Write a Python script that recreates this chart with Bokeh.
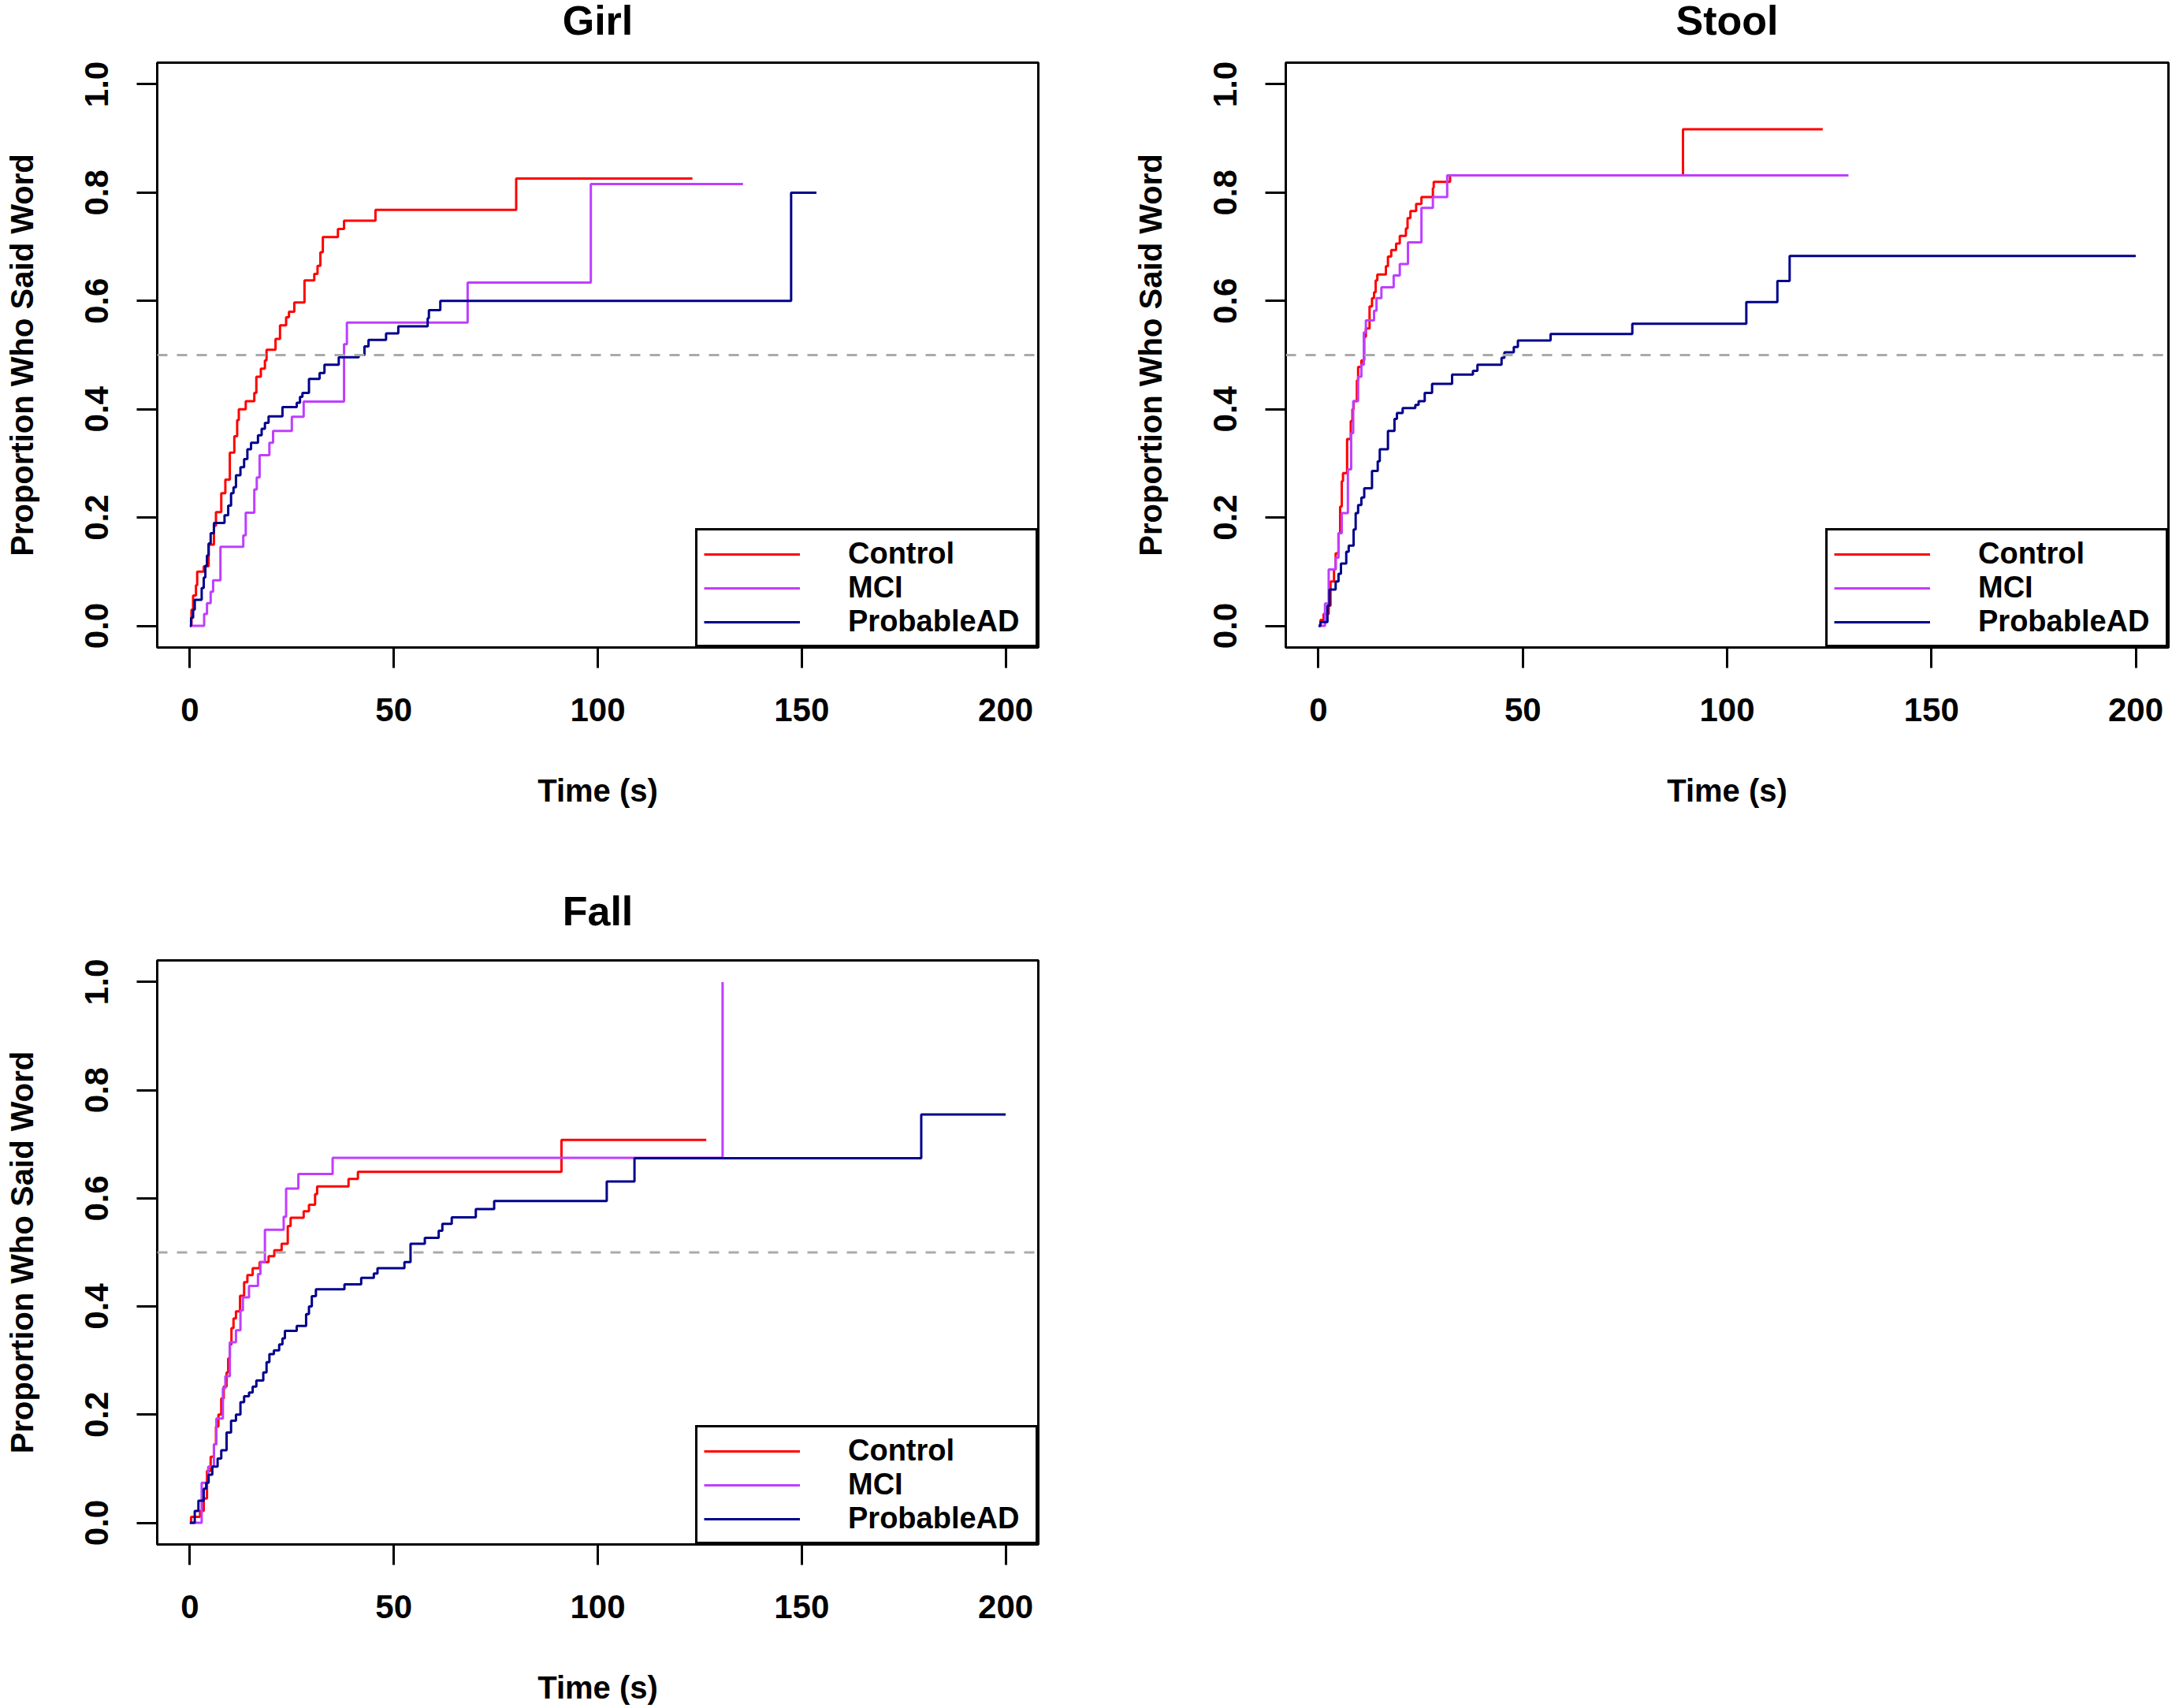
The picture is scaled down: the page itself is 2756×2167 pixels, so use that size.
from bokeh.plotting import figure
from bokeh.models import Range1d, FixedTicker, PrintfTickFormatter, Span, Legend, LegendItem
from bokeh.layouts import row, column
from bokeh.embed import file_html
from bokeh.resources import INLINE

# ---------------- data ----------------
groups = ["Control", "MCI", "ProbableAD"]
colors = ["#FF0000", "#BF3EFF", "#00008B"]
panel_titles = ["Girl", "Stool", "Fall"]
x_ticks = [0, 50, 100, 150, 200]
y_ticks = [0.0, 0.2, 0.4, 0.6, 0.8, 1.0]
x_label = "Time (s)"
y_label = "Proportion Who Said Word"

girl_control_t = [0, 0.4, 0.8, 1.5, 1.8, 3.4, 4.6, 5.9, 6.4, 7.7, 8.7, 9.8, 10.9, 11.6, 12.0, 13.7, 15.8, 16.3,
                  17.4, 18.4, 18.8, 21.0, 22.1, 23.6, 24.3, 25.6, 28.1, 30.5, 31.3, 32.0, 32.6, 36.3, 37.8, 45.5,
                  80.0, 123.2]
girl_control_p = [0, 0.03, 0.056, 0.075, 0.10, 0.11, 0.15, 0.185, 0.21, 0.245, 0.27, 0.32, 0.35, 0.38, 0.40, 0.415,
                  0.43, 0.46, 0.475, 0.49, 0.51, 0.53, 0.555, 0.57, 0.58, 0.597, 0.638, 0.65, 0.665, 0.69, 0.718,
                  0.733, 0.748, 0.768, 0.826, 0.826]
girl_mci_t = [0, 3.5, 4.2, 5.1, 5.7, 7.5, 13.1, 13.7, 15.8, 16.4, 17.1, 19.5, 20.4, 25.0, 27.9, 37.8, 38.5, 68.1,
              98.3, 135.6]
girl_mci_p = [0, 0.022, 0.042, 0.063, 0.084, 0.146, 0.167, 0.209, 0.252, 0.274, 0.315, 0.338, 0.36, 0.386, 0.414,
              0.52, 0.56, 0.634, 0.816, 0.816]
girl_ad_t = [0, 0.3, 0.8, 1.2, 2.9, 3.4, 3.8, 4.2, 4.6, 5.1, 5.9, 8.5, 9.4, 10.1, 10.7, 11.3, 12.4, 13.3, 14.1,
             15.0, 16.7, 17.6, 18.4, 19.3, 22.7, 26.2, 27.0, 27.6, 29.2, 31.8, 33.0, 36.5, 41.4, 42.8, 43.8, 48.1,
             51.1, 58.3, 58.6, 61.4, 147.4, 153.6]
girl_ad_p = [0, 0.015, 0.03, 0.048, 0.07, 0.089, 0.111, 0.13, 0.152, 0.171, 0.19, 0.204, 0.222, 0.245, 0.256,
             0.278, 0.293, 0.308, 0.326, 0.338, 0.352, 0.364, 0.375, 0.387, 0.404, 0.412, 0.423, 0.43, 0.456, 0.467,
             0.482, 0.496, 0.50, 0.516, 0.528, 0.54, 0.553, 0.568, 0.583, 0.60, 0.80, 0.80]

stool_control_t = [0, 0.5, 1.25, 2.5, 2.95, 3.8, 4.2, 4.9, 5.3, 5.7, 6.0, 7.0, 7.9, 8.3, 8.6, 9.4, 9.7, 10.5,
                   11.2, 11.6, 12.5, 13.1, 13.6, 14.0, 14.4, 16.5, 17.0, 17.8, 19.0, 19.9, 21.4, 21.8, 22.5, 23.9,
                   25.2, 28.0, 28.2, 32.2, 89.2, 123.4]
stool_control_p = [0, 0.011, 0.022, 0.037, 0.082, 0.104, 0.134, 0.171, 0.22, 0.267, 0.282, 0.345, 0.378, 0.40,
                   0.415, 0.453, 0.478, 0.49, 0.534, 0.549, 0.59, 0.605, 0.616, 0.638, 0.649, 0.664, 0.682, 0.694,
                   0.706, 0.72, 0.734, 0.753, 0.766, 0.779, 0.792, 0.809, 0.82, 0.832, 0.917, 0.917]
stool_mci_t = [0, 1.6, 2.5, 4.2, 4.9, 5.7, 7.2, 8.0, 8.5, 9.7, 10.5, 11.1, 11.6, 13.6, 14.2, 15.4, 18.4, 19.9,
               21.9, 25.2, 28.0, 31.5, 129.7]
stool_mci_p = [0, 0.041, 0.104, 0.126, 0.171, 0.208, 0.289, 0.356, 0.415, 0.46, 0.482, 0.542, 0.564, 0.582,
               0.605, 0.625, 0.647, 0.668, 0.708, 0.772, 0.792, 0.832, 0.832]
stool_ad_t = [0, 0.5, 2.2, 2.7, 4.2, 4.9, 5.5, 6.8, 7.4, 8.6, 9.1, 9.7, 10.5, 11.2, 13.1, 14.5, 15.0, 17.0, 18.6,
              19.2, 20.6, 23.7, 24.5, 26.0, 27.8, 32.7, 37.8, 38.9, 44.8, 45.5, 47.8, 48.8, 56.8, 76.8, 104.7,
              112.3, 115.3, 200]
stool_ad_p = [0, 0.007, 0.037, 0.067, 0.082, 0.096, 0.115, 0.137, 0.148, 0.178, 0.208, 0.223, 0.237, 0.254,
              0.286, 0.304, 0.326, 0.36, 0.382, 0.393, 0.402, 0.408, 0.415, 0.43, 0.447, 0.464, 0.471, 0.482, 0.495,
              0.505, 0.515, 0.527, 0.539, 0.558, 0.598, 0.637, 0.683, 0.683]

fall_control_t = [0, 0.3, 2.5, 3.4, 4.2, 5.1, 5.9, 6.4, 7.0, 7.7, 8.3, 9.0, 9.4, 9.8, 10.2, 10.7, 11.3, 12.3,
                  13.3, 14.1, 15.4, 17.1, 19.3, 20.7, 22.5, 24.0, 24.7, 27.9, 29.2, 30.7, 31.2, 38.9, 41.2, 91.1,
                  126.6]
fall_control_p = [0, 0.011, 0.022, 0.045, 0.096, 0.122, 0.145, 0.178, 0.20, 0.23, 0.252, 0.278, 0.304, 0.33,
                  0.36, 0.378, 0.391, 0.42, 0.445, 0.458, 0.471, 0.482, 0.493, 0.504, 0.516, 0.549, 0.564, 0.576,
                  0.588, 0.608, 0.622, 0.636, 0.649, 0.708, 0.708]
fall_mci_t = [0, 2.9, 4.5, 5.9, 6.5, 8.1, 8.7, 9.8, 11.3, 12.4, 13.0, 14.5, 16.7, 17.3, 18.4, 23.0, 23.6, 26.6,
              35.0, 130.6]
fall_mci_p = [0, 0.074, 0.104, 0.145, 0.193, 0.249, 0.271, 0.334, 0.356, 0.393, 0.417, 0.438, 0.46, 0.482,
              0.542, 0.566, 0.618, 0.645, 0.675, 1.0]
fall_ad_t = [0, 1.2, 2.1, 3.4, 4.0, 4.6, 5.5, 6.8, 7.7, 9.0, 10.1, 11.3, 12.4, 13.3, 14.5, 15.4, 16.3, 18.0, 18.8,
             19.5, 20.6, 21.9, 22.7, 23.3, 26.2, 28.5, 29.2, 29.9, 30.9, 37.9, 42.0, 45.1, 46.0, 52.6, 54.1, 57.6,
             61.0, 61.9, 64.2, 70.1, 74.6, 102.2, 109.0, 179.3, 200]
fall_ad_p = [0, 0.022, 0.041, 0.063, 0.074, 0.089, 0.104, 0.119, 0.134, 0.167, 0.189, 0.20, 0.223, 0.234, 0.241,
             0.252, 0.263, 0.278, 0.297, 0.312, 0.319, 0.33, 0.341, 0.355, 0.364, 0.386, 0.40, 0.419, 0.432, 0.441,
             0.453, 0.461, 0.471, 0.482, 0.516, 0.527, 0.54, 0.553, 0.565, 0.58, 0.595, 0.631, 0.674, 0.755, 0.755]

reference_level = 0.5

# ---------------- drawing ----------------
FONT = "Liberation Sans"
SHIFT_UP = 32   # the whole page is moved up so the titles can sit high above the frames


def make_panel(title, curves, width, height, b_left, b_right, b_top, b_bottom, title_standoff):
    p = figure(width=width, height=height, title=title,
               x_range=Range1d(-8, 208), y_range=Range1d(-0.04, 1.04),
               output_backend="svg", toolbar_location=None,
               min_border_left=b_left, min_border_right=b_right,
               min_border_top=b_top, min_border_bottom=b_bottom,
               background_fill_color="white", border_fill_color="white")
    p.grid.visible = False
    p.outline_line_color = "black"
    p.outline_line_width = 3
    p.outline_line_alpha = 1

    p.title.text_font = FONT
    p.title.text_font_style = "bold"
    p.title.text_font_size = "52px"
    p.title.align = "center"
    p.title.standoff = title_standoff
    p.title.text_color = "black"

    for ax in (p.xaxis[0], p.yaxis[0]):
        ax.axis_line_color = None
        ax.major_tick_out = 26
        ax.major_tick_in = 0
        ax.major_tick_line_width = 3
        ax.major_tick_line_color = "black"
        ax.minor_tick_line_color = None
        ax.major_label_text_font = FONT
        ax.major_label_text_font_style = "bold"
        ax.major_label_text_font_size = "42px"
        ax.major_label_text_color = "black"
        ax.axis_label_text_font = FONT
        ax.axis_label_text_font_style = "bold"
        ax.axis_label_text_font_size = "40px"
        ax.axis_label_text_color = "black"

    p.xaxis.ticker = FixedTicker(ticks=x_ticks)
    p.yaxis.ticker = FixedTicker(ticks=y_ticks)
    p.yaxis.formatter = PrintfTickFormatter(format="%.1f")
    p.yaxis.major_label_orientation = "vertical"
    p.xaxis.axis_label = x_label
    p.yaxis.axis_label = y_label
    p.xaxis.major_label_standoff = 38
    p.yaxis.major_label_standoff = 36
    p.xaxis.axis_label_standoff = 63
    p.yaxis.axis_label_standoff = 56

    p.add_layout(Span(location=reference_level, dimension="width", line_color="#AAAAAA",
                      line_width=3, line_dash="13 12"))

    items = []
    for (t, pr), name, col in zip(curves, groups, colors):
        r = p.step(t, pr, mode="after", line_color=col, line_width=3)
        items.append(LegendItem(label=name, renderers=[r]))

    legend = Legend(items=items, location="bottom_right", margin=0, padding=8, spacing=0,
                    glyph_width=122, glyph_height=36, label_height=36, label_width=230, label_standoff=61,
                    label_text_font=FONT, label_text_font_style="bold", label_text_font_size="38px",
                    label_text_color="black",
                    border_line_color="black", border_line_width=3, border_line_alpha=1,
                    background_fill_color="white", background_fill_alpha=1)
    p.add_layout(legend)
    return p


p_girl = make_panel(panel_titles[0],
                    [(girl_control_t, girl_control_p), (girl_mci_t, girl_mci_p), (girl_ad_t, girl_ad_p)],
                    1378, 1083 + SHIFT_UP, 199, 61, 79 + SHIFT_UP, 262, 49)
p_stool = make_panel(panel_titles[1],
                     [(stool_control_t, stool_control_p), (stool_mci_t, stool_mci_p), (stool_ad_t, stool_ad_p)],
                     1377, 1083 + SHIFT_UP, 253, 4, 79 + SHIFT_UP, 262, 49)
p_fall = make_panel(panel_titles[2],
                    [(fall_control_t, fall_control_p), (fall_mci_t, fall_mci_p), (fall_ad_t, fall_ad_p)],
                    1378, 1082, 199, 61, 135, 205, 67)

layout = column(row(p_girl, p_stool, spacing=0), p_fall, spacing=0,
                styles={"margin-top": "-%dpx" % SHIFT_UP})

open("out.html", "w").write(file_html(layout, INLINE))
